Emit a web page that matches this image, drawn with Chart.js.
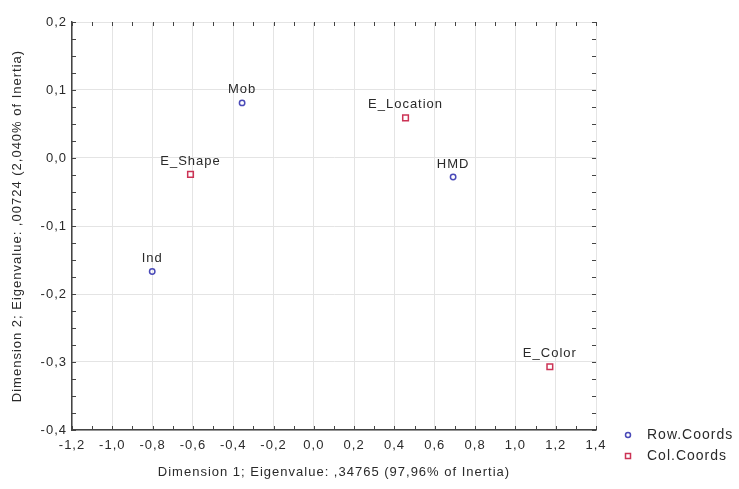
<!DOCTYPE html>
<html>
<head>
<meta charset="utf-8">
<script src="https://cdn.jsdelivr.net/npm/chart.js@4"></script>
<style>
  html, body { margin: 0; padding: 0; background: #fff; }
  #wrap { width: 739px; height: 489px; position: relative; }
</style>
</head>
<body>
<div id="wrap"><canvas id="caChart"></canvas></div>
<script>
// correspondence analysis coordinates
const rowNames = ['Mob', 'Ind', 'HMD'];
const rowX = [-0.356, -0.802, 0.691];
const rowY = [0.081, -0.167, -0.028];

const colNames = ['E_Shape', 'E_Location', 'E_Color'];
const colX = [-0.612, 0.455, 1.171];
const colY = [-0.024, 0.059, -0.307];

const xTitle = 'Dimension 1; Eigenvalue: ,34765 (97,96% of Inertia)';
const yTitle = 'Dimension 2; Eigenvalue: ,00724 (2,040% of Inertia)';
const seriesNames = ['Row.Coords', 'Col.Coords'];

const FONT = '"Liberation Sans", Arial, sans-serif';
const blue = '#4a4ab8';
const red = '#cc3355';
const textColor = '#2a2a2a';

const comma = v => v.toFixed(1).replace('.', ',').replace('-0,0', '0,0');

// the original text is drawn a bit wide, so space the letters out
const spacing = {
    id: 'spacing',
    beforeUpdate(chart) { chart.ctx.letterSpacing = '1px'; },
    beforeDraw(chart) { chart.ctx.letterSpacing = '1px'; }
};

// names above each point
const pointLabels = {
    id: 'pointLabels',
    afterDatasetsDraw(chart) {
        const ctx = chart.ctx;
        ctx.save();
        ctx.font = '13px ' + FONT;
        ctx.fillStyle = textColor;
        ctx.textAlign = 'center';
        ctx.textBaseline = 'middle';
        chart.data.datasets.forEach((ds, i) => {
            chart.getDatasetMeta(i).data.forEach((pt, j) => {
                ctx.fillText(ds.names[j], pt.x, pt.y - 13);
            });
        });
        ctx.restore();
    }
};

// inward ticks on all four sides, plus legend bottom right
const frameTicks = {
    id: 'frameTicks',
    afterDraw(chart) {
        const ctx = chart.ctx;
        const a = chart.chartArea;
        const xs = chart.scales.x, ys = chart.scales.y;
        ctx.save();
        ctx.strokeStyle = '#444';
        ctx.lineWidth = 1;
        ctx.beginPath();
        for (let v = -1.2; v <= 1.4001; v += 0.1) {
            const px = Math.round(xs.getPixelForValue(v)) + 0.5;
            ctx.moveTo(px, a.bottom); ctx.lineTo(px, a.bottom - 4);
            ctx.moveTo(px, a.top); ctx.lineTo(px, a.top + 4);
        }
        for (let v = -0.4; v <= 0.2001; v += 0.025) {
            const py = Math.round(ys.getPixelForValue(v)) + 0.5;
            ctx.moveTo(a.left, py); ctx.lineTo(a.left + 4, py);
            ctx.moveTo(a.right, py); ctx.lineTo(a.right - 4, py);
        }
        ctx.stroke();

        // legend
        ctx.font = '14px ' + FONT;
        ctx.textBaseline = 'middle';
        ctx.textAlign = 'left';
        const lx = 628, ly = [435, 456];
        ctx.lineWidth = 1.5;
        ctx.strokeStyle = blue;
        ctx.beginPath(); ctx.arc(lx, ly[0], 2.5, 0, Math.PI * 2); ctx.stroke();
        ctx.strokeStyle = red;
        ctx.strokeRect(lx - 2.5, ly[1] - 2.5, 5, 5);
        ctx.fillStyle = textColor;
        ctx.fillText(seriesNames[0], 647, ly[0]);
        ctx.fillText(seriesNames[1], 647, ly[1]);
        ctx.restore();
    }
};

new Chart(document.getElementById('caChart'), {
    type: 'scatter',
    data: {
        datasets: [{
            label: seriesNames[0],
            names: rowNames,
            data: rowX.map((x, i) => ({ x, y: rowY[i] })),
            pointStyle: 'circle',
            pointRadius: 2.7,
            borderColor: blue,
            backgroundColor: 'rgba(0,0,0,0)',
            borderWidth: 1.5
        }, {
            label: seriesNames[1],
            names: colNames,
            data: colX.map((x, i) => ({ x, y: colY[i] })),
            pointStyle: 'rect',
            pointRadius: 4,
            borderColor: red,
            backgroundColor: 'rgba(0,0,0,0)',
            borderWidth: 1.5
        }]
    },
    options: {
        responsive: true,
        maintainAspectRatio: false,
        animation: false,
        events: [],
        layout: { padding: { top: 22, right: 143, left: 0, bottom: 0 } },
        plugins: { legend: { display: false }, tooltip: { enabled: false } },
        scales: {
            x: {
                type: 'linear',
                min: -1.2, max: 1.4,
                afterFit: s => { s.height = 59; },
                ticks: { stepSize: 0.2, padding: 8, color: textColor, font: { family: FONT, size: 13 }, callback: comma, maxRotation: 0, autoSkip: false },
                grid: { color: '#e4e4e4', drawTicks: false },
                border: { color: '#444', width: 1.5 },
                title: { display: true, text: xTitle, color: textColor, font: { family: FONT, size: 13 }, padding: { top: 0, bottom: 9 } }
            },
            y: {
                type: 'linear',
                min: -0.4, max: 0.2,
                afterFit: s => { s.width = 72; },
                ticks: { stepSize: 0.1, padding: 5, color: textColor, font: { family: FONT, size: 13 }, callback: comma },
                grid: { color: '#e4e4e4', drawTicks: false },
                border: { color: '#444', width: 1.5 },
                title: { display: true, text: yTitle, color: textColor, font: { family: FONT, size: 13 }, padding: { top: 10, bottom: 0 } }
            }
        }
    },
    plugins: [spacing, pointLabels, frameTicks]
});
</script>
</body>
</html>
